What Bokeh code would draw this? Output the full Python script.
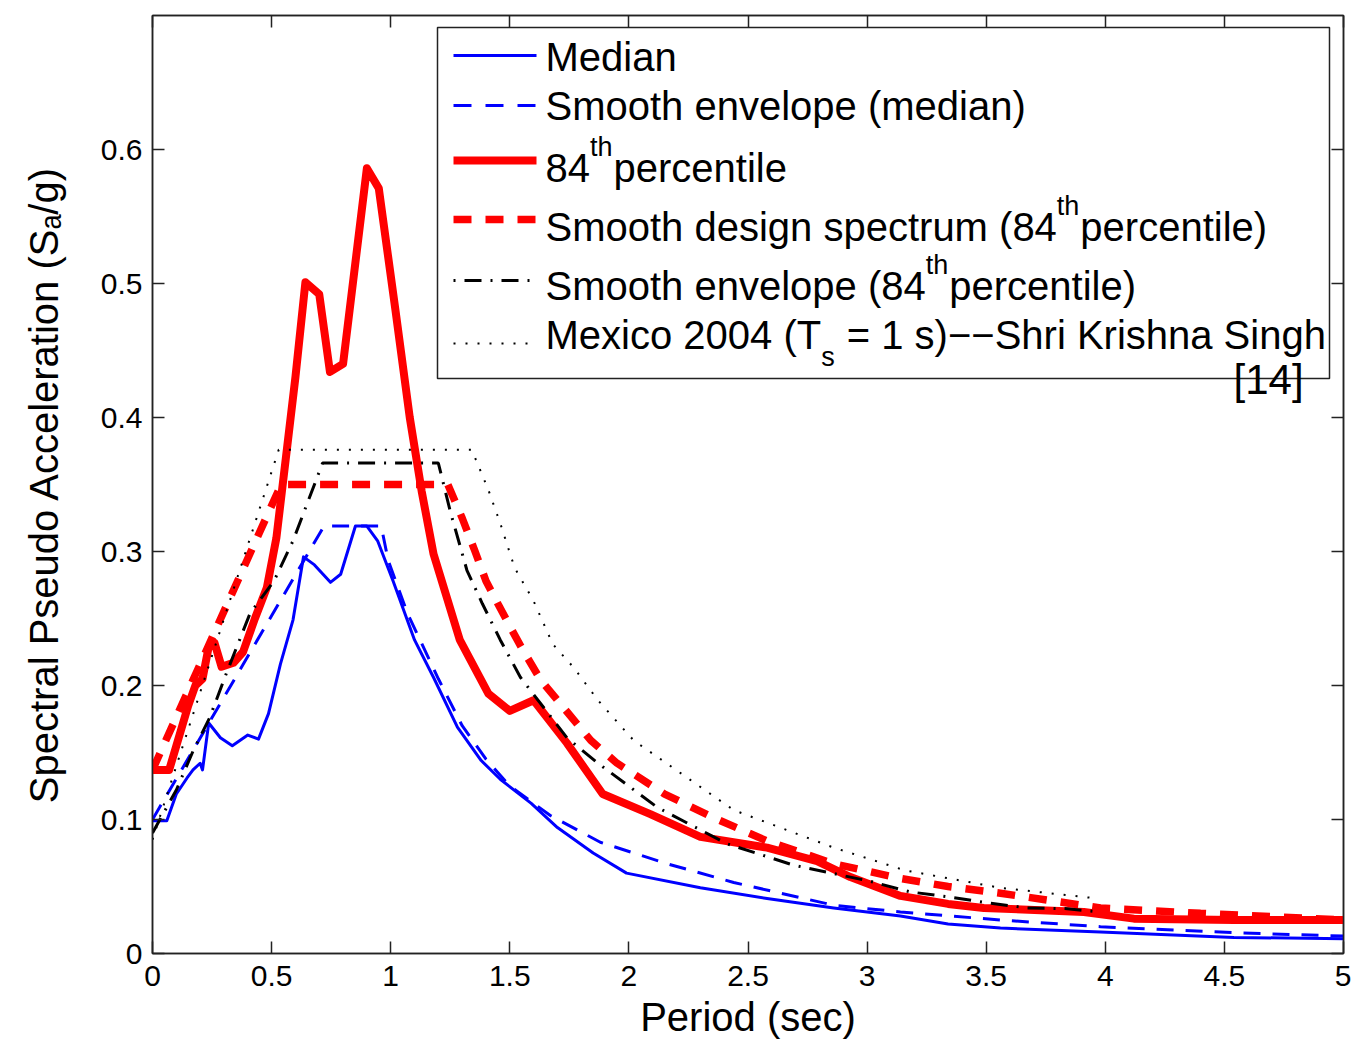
import math
from bokeh.plotting import figure
from bokeh.models import LinearAxis, FixedTicker, Range1d, Label, Arrow, BoxAnnotation
from bokeh.embed import file_html
from bokeh.resources import INLINE

# ---------------- data ----------------
median_T = [0, 0.06, 0.10, 0.145, 0.17, 0.20, 0.21, 0.236, 0.285, 0.335, 0.40, 0.445,
            0.487, 0.537, 0.59, 0.634, 0.68, 0.747, 0.79, 0.852, 0.90, 0.945, 1.01,
            1.10, 1.18, 1.28, 1.38, 1.46, 1.59, 1.70, 1.85, 1.99, 2.30, 2.58, 2.86,
            3.14, 3.34, 3.56, 3.98, 4.54, 5.0]
median_Sa = [0.099, 0.099, 0.119, 0.131, 0.137, 0.142, 0.137, 0.172, 0.161, 0.155, 0.163,
             0.160, 0.179, 0.216, 0.249, 0.296, 0.290, 0.277, 0.283, 0.319, 0.319, 0.308,
             0.278, 0.234, 0.206, 0.169, 0.144, 0.130, 0.112, 0.094, 0.075, 0.060, 0.049,
             0.041, 0.034, 0.028, 0.022, 0.019, 0.016, 0.012, 0.011]

env_median_T = [0, 0.72, 0.96, 0.99, 1.07, 1.2, 1.3, 1.4, 1.5, 1.67, 1.88, 2.16, 2.44,
                2.86, 3.14, 3.56, 3.98, 4.54, 5.0]
env_median_Sa = [0.100, 0.319, 0.319, 0.293, 0.254, 0.205, 0.170, 0.145, 0.125, 0.103,
                 0.083, 0.067, 0.053, 0.036, 0.031, 0.025, 0.020, 0.0155, 0.013]

p84_T = [0, 0.07, 0.10, 0.15, 0.18, 0.21, 0.235, 0.26, 0.29, 0.34, 0.38, 0.43, 0.48,
         0.52, 0.56, 0.60, 0.642, 0.70, 0.745, 0.80, 0.90, 0.95, 1.02, 1.08, 1.13, 1.18,
         1.29, 1.41, 1.50, 1.60, 1.74, 1.89, 2.09, 2.30, 2.58, 2.79, 2.93, 3.14, 3.34,
         3.49, 3.91, 4.12, 4.54, 5.0]
p84_Sa = [0.137, 0.137, 0.155, 0.185, 0.200, 0.205, 0.228, 0.232, 0.214, 0.217, 0.225,
          0.250, 0.273, 0.310, 0.370, 0.430, 0.501, 0.492, 0.434, 0.440, 0.586, 0.571,
          0.480, 0.400, 0.345, 0.298, 0.234, 0.194, 0.181, 0.189, 0.157, 0.119, 0.104,
          0.087, 0.079, 0.069, 0.057, 0.043, 0.037, 0.034, 0.031, 0.026, 0.025, 0.025]

design84_T = [0, 0.54, 1.24, 1.30, 1.35, 1.40, 1.45, 1.51, 1.55, 1.63, 1.84, 1.95, 2.15,
              2.36, 2.58, 2.86, 3.14, 3.34, 3.56, 3.98, 4.4, 5.0]
design84_Sa = [0.137, 0.350, 0.350, 0.325, 0.302, 0.278, 0.261, 0.241, 0.228, 0.204,
               0.159, 0.142, 0.119, 0.101, 0.084, 0.067, 0.056, 0.050, 0.045, 0.034,
               0.030, 0.025]

env84_T = [0, 0.10, 0.17, 0.24, 0.31, 0.41, 0.51, 0.59, 0.714, 1.20, 1.25, 1.32, 1.385,
           1.46, 1.545, 1.74, 1.87, 2.12, 2.41, 2.69, 3.01, 3.18, 3.35, 3.50, 3.67, 3.83,
           3.98]
env84_Sa = [0.090, 0.122, 0.151, 0.176, 0.209, 0.254, 0.278, 0.308, 0.366, 0.366, 0.330,
            0.286, 0.261, 0.234, 0.206, 0.161, 0.142, 0.109, 0.082, 0.066, 0.054, 0.046,
            0.042, 0.038, 0.034, 0.0335, 0.031]

mexico_T = [0, 0.53, 1.34, 1.41, 1.46, 1.52, 1.60, 1.68, 1.77, 1.87, 2.02, 2.44, 2.86,
            3.16, 3.56, 3.97]
mexico_Sa = [0.085, 0.376, 0.376, 0.346, 0.321, 0.288, 0.263, 0.231, 0.213, 0.189, 0.159,
             0.107, 0.079, 0.062, 0.049, 0.041]

x_ticks = [0, 0.5, 1, 1.5, 2, 2.5, 3, 3.5, 4, 4.5, 5]
x_tick_labels = ["0", "0.5", "1", "1.5", "2", "2.5", "3", "3.5", "4", "4.5", "5"]
y_ticks = [0, 0.1, 0.2, 0.3, 0.4, 0.5, 0.6]
y_tick_labels = ["0", "0.1", "0.2", "0.3", "0.4", "0.5", "0.6"]

legend_rows = [
    [("Median", "n")],
    [("Smooth envelope (median)", "n")],
    [("84", "n"), ("th", "sup"), ("percentile", "n")],
    [("Smooth design spectrum (84", "n"), ("th", "sup"), ("percentile)", "n")],
    [("Smooth envelope (84", "n"), ("th", "sup"), ("percentile)", "n")],
    [("Mexico 2004 (T", "n"), ("s", "sub"), (" = 1 s)\u2212\u2212Shri Krishna Singh", "n")],
]
x_label = "Period (sec)"
y_label = "Spectral Pseudo Acceleration (S\u2090/g)"
citation = "[14]"

# ---------------- layout helpers ----------------
FONT = "Liberation Sans"
XMAX, YMAX = 5.0, 0.7
FL, FR, FT, FB = 152, 1343, 15, 953   # frame edges in page pixels
TXT_DY = 14                           # label baseline correction (px)


def px2x(px):
    return (px - FL) / (FR - FL) * XMAX


def py2y(py):
    return (FB - py) / (FB - FT) * YMAX


ARIAL = {' ': 278, '(': 333, ')': 333, '.': 278, '/': 278, '=': 584, '[': 278, ']': 278,
         '\u2212': 584, '-': 333, 'A': 667, 'K': 667, 'M': 833, 'P': 667, 'S': 667,
         'T': 611, 'a': 556, 'c': 500, 'd': 556, 'e': 556, 'g': 556, 'h': 556, 'i': 222,
         'k': 500, 'l': 222, 'm': 833, 'n': 556, 'o': 556, 'p': 556, 'r': 333, 's': 500,
         't': 278, 'u': 556, 'v': 500, 'x': 500, 'y': 500}


def tw(s, size):
    return sum(ARIAL.get(c, 556) for c in s) / 1000.0 * size


p = figure(width=1351, height=1042, x_range=Range1d(0, XMAX), y_range=Range1d(0, YMAX),
           output_backend="svg", toolbar_location=None,
           min_border_left=FL, min_border_right=1351 - FR, min_border_top=FT,
           min_border_bottom=1042 - FB)
p.background_fill_color = "white"
p.border_fill_color = "white"
p.outline_line_color = "#222222"
p.outline_line_width = 1.5
p.xgrid.visible = False
p.ygrid.visible = False


def style_axis(ax, ticks, labels, show_labels):
    ax.ticker = FixedTicker(ticks=ticks)
    ax.major_tick_in = 12
    ax.major_tick_out = 0
    ax.minor_tick_line_color = None
    ax.axis_line_color = "#222222"
    ax.axis_line_width = 1.5
    ax.major_tick_line_color = "#222222"
    ax.major_tick_line_width = 1.5
    ax.major_label_text_font = FONT
    ax.major_label_text_color = "black"
    if show_labels:
        ax.major_label_overrides = {t: l for t, l in zip(ticks, labels)}
        ax.major_label_text_font_size = "30px"
    else:
        ax.major_label_overrides = {t: "" for t in ticks}
        ax.major_label_text_font_size = "1px"
        ax.major_label_standoff = 0


style_axis(p.xaxis[0], x_ticks, x_tick_labels, True)
style_axis(p.yaxis[0], y_ticks, y_tick_labels, True)
p.xaxis[0].major_label_standoff = 12
p.yaxis[0].major_label_standoff = 10
for ax, lab in ((p.xaxis[0], x_label), (p.yaxis[0], y_label)):
    ax.axis_label = lab
    ax.axis_label_text_font = FONT
    ax.axis_label_text_font_size = "40px"
    ax.axis_label_text_font_style = "normal"
    ax.axis_label_text_color = "black"
p.xaxis[0].axis_label_standoff = 6
p.yaxis[0].axis_label_standoff = 32

top_ax = LinearAxis()
style_axis(top_ax, x_ticks, x_tick_labels, False)
p.add_layout(top_ax, "above")
right_ax = LinearAxis()
style_axis(right_ax, y_ticks, y_tick_labels, False)
p.add_layout(right_ax, "right")

# ---------------- curves ----------------
p.line(median_T, median_Sa, line_color="#0000ff", line_width=3, line_join="round")
p.line(env_median_T, env_median_Sa, line_color="#0000ff", line_width=3, line_dash="17 12")
p.line(p84_T, p84_Sa, line_color="#ff0000", line_width=8, line_join="round")
p.line(design84_T, design84_Sa, line_color="#ff0000", line_width=7.5, line_dash="18 14")
p.line(env84_T, env84_Sa, line_color="black", line_width=3, line_dash="17 9 2 9")
p.line(mexico_T, mexico_Sa, line_color="black", line_width=2, line_dash="2 10")

# ---------------- legend (drawn by hand for super/subscripts) ----------------
p.add_layout(BoxAnnotation(left=px2x(437), right=px2x(1329), top=py2y(27), bottom=py2y(378),
                           fill_color="white", fill_alpha=1.0, line_color="#222222",
                           line_alpha=1.0, line_width=1.5, level="annotation"))

sample_y = [55, 105, 160, 219, 280, 343]
sample_style = [
    dict(line_color="#0000ff", line_width=3, line_dash="solid"),
    dict(line_color="#0000ff", line_width=3, line_dash="18 14"),
    dict(line_color="#ff0000", line_width=8, line_dash="solid"),
    dict(line_color="#ff0000", line_width=7.5, line_dash="18 14"),
    dict(line_color="black", line_width=3, line_dash="2 9 17 9"),
    dict(line_color="black", line_width=2, line_dash="2 10"),
]
for sy, st in zip(sample_y, sample_style):
    p.add_layout(Arrow(x_start=px2x(453), y_start=py2y(sy), x_end=px2x(536), y_end=py2y(sy),
                       start=None, end=None, **st))

LEG_FS, SUP_FS = 40, 27
baselines = [70, 119, 181, 240, 299, 348]
for row, base in zip(legend_rows, baselines):
    xcur = 545.0
    for txt, kind in row:
        size = LEG_FS if kind == "n" else SUP_FS
        yb = base if kind == "n" else (base - 21 if kind == "sup" else base + 22)
        lead = len(txt) - len(txt.lstrip(" "))
        xcur += tw(" " * lead, size)
        t = txt.lstrip(" ")
        p.add_layout(Label(x=px2x(xcur), y=py2y(yb - TXT_DY), text=t, text_font=FONT,
                           text_font_size=f"{size}px", text_color="black",
                           text_align="left", text_baseline="alphabetic"))
        xcur += tw(t, size) + (1 if kind != "n" else 0)

p.add_layout(Label(x=px2x(1233), y=py2y(393 - TXT_DY), text=citation, text_font=FONT,
                   text_font_size="42px", text_color="black",
                   text_align="left", text_baseline="alphabetic"))

open("out.html", "w").write(file_html(p, INLINE))
